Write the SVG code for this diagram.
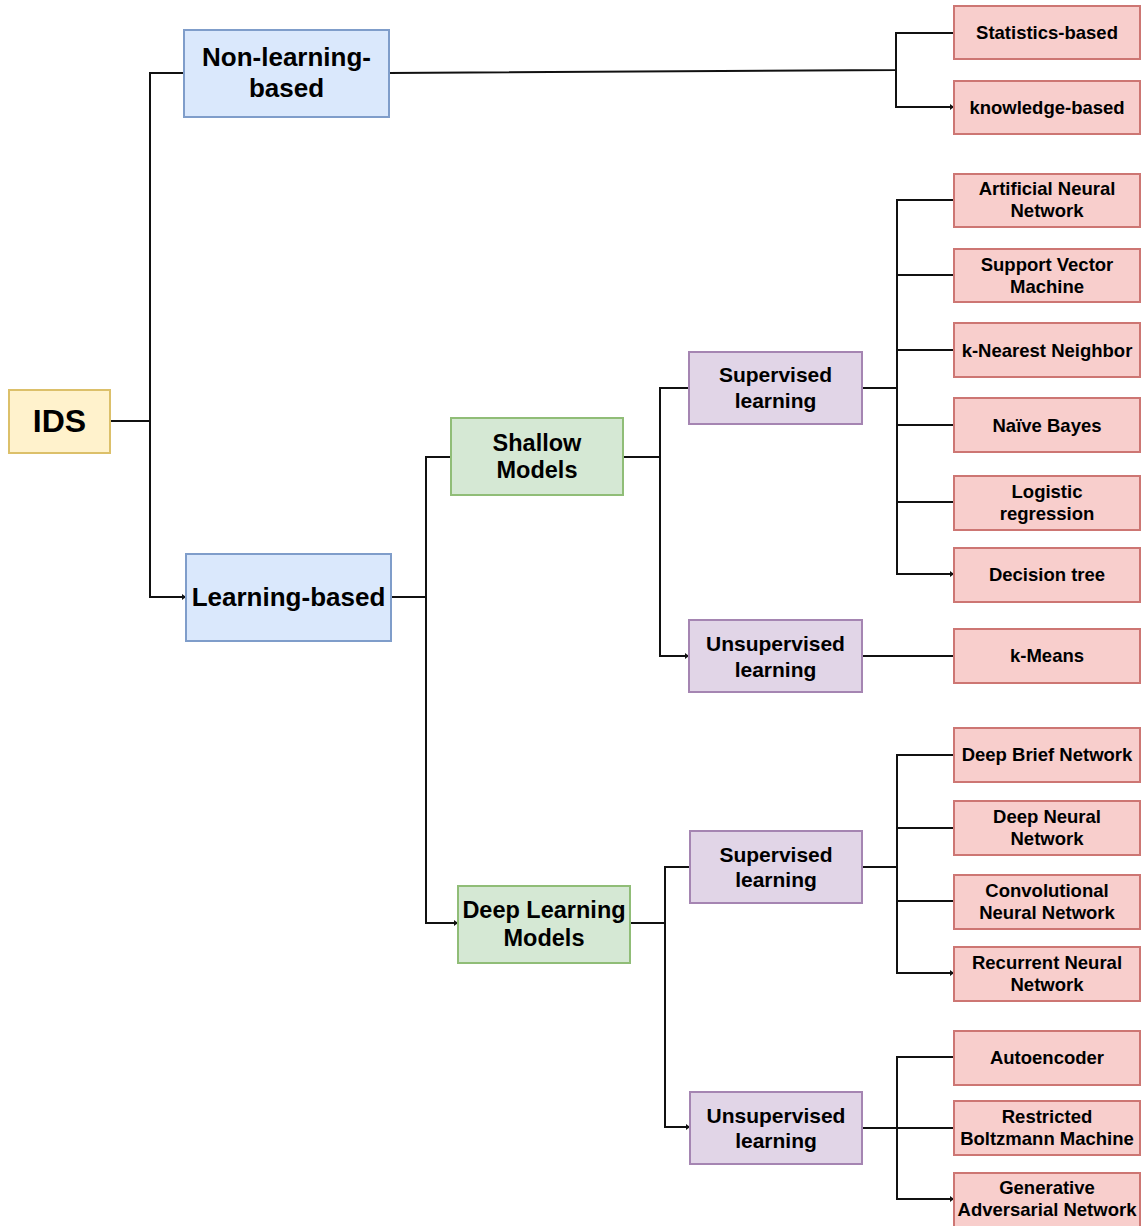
<svg xmlns="http://www.w3.org/2000/svg" width="1143" height="1226" viewBox="0 0 1143 1226">
  <style>
    .box { stroke-width: 2; }
    .ids { fill: #fff2cc; stroke: #dcc06a; }
    .blue { fill: #dae8fc; stroke: #7f9dca; }
    .green { fill: #d5e8d4; stroke: #90bd77; }
    .purple { fill: #e1d5e7; stroke: #a585b2; }
    .red { fill: #f8cecc; stroke: #cd7673; }
    text { font-family: "Liberation Sans", Arial, sans-serif; font-weight: bold; fill: #000; text-anchor: middle; }
    .t32 { font-size: 32px; }
    .t26 { font-size: 26px; }
    .t23 { font-size: 23.5px; }
    .t21 { font-size: 21px; }
    .t18 { font-size: 18.5px; }
    .edge { fill: none; stroke: #111; stroke-width: 2; }
  </style>
  <defs>
    <marker id="tick" viewBox="0 0 4 6" refX="4" refY="3" markerWidth="4" markerHeight="6" markerUnits="userSpaceOnUse" orient="auto">
      <path d="M0,0 L4,3 L0,6 Z" fill="#111"/>
    </marker>
  </defs>
  <rect width="1143" height="1226" fill="#ffffff"/>

  <!-- connectors -->
  <g id="connectors">
    <!-- IDS -->
    <path class="edge" d="M110,421 H150 V73 H184"/>
    <path class="edge" d="M110,421 H150 V597 H186" marker-end="url(#tick)"/>
    <!-- Non-learning-based -->
    <path class="edge" d="M389,73 L896,70 V33 H954"/>
    <path class="edge" d="M896,70 V107 H954" marker-end="url(#tick)"/>
    <!-- Learning-based -->
    <path class="edge" d="M391,597 H426 V457 H451"/>
    <path class="edge" d="M391,597 H426 V923 H458" marker-end="url(#tick)"/>
    <!-- Shallow Models -->
    <path class="edge" d="M623,457 H660 V388 H689"/>
    <path class="edge" d="M623,457 H660 V656 H689" marker-end="url(#tick)"/>
    <!-- Shallow supervised -->
    <path class="edge" d="M862,388 H897 V200 H954"/>
    <path class="edge" d="M897,275 H954"/>
    <path class="edge" d="M897,350 H954"/>
    <path class="edge" d="M897,425 H954"/>
    <path class="edge" d="M897,502 H954"/>
    <path class="edge" d="M862,388 H897 V574 H954" marker-end="url(#tick)"/>
    <!-- Shallow unsupervised -->
    <path class="edge" d="M862,656 H954"/>
    <!-- Deep Learning Models -->
    <path class="edge" d="M630,923 H665 V867 H690"/>
    <path class="edge" d="M630,923 H665 V1127 H690" marker-end="url(#tick)"/>
    <!-- Deep supervised -->
    <path class="edge" d="M862,867 H897 V755 H954"/>
    <path class="edge" d="M897,828 H954"/>
    <path class="edge" d="M897,901 H954"/>
    <path class="edge" d="M862,867 H897 V973 H954" marker-end="url(#tick)"/>
    <!-- Deep unsupervised -->
    <path class="edge" d="M862,1128 H897 V1057 H954"/>
    <path class="edge" d="M862,1128 H954"/>
    <path class="edge" d="M897,1128 V1199 H954" marker-end="url(#tick)"/>
  </g>

  <!-- root -->
  <g id="ids">
    <rect class="box ids" x="9" y="390" width="101" height="63"/>
    <text class="t32" x="59.5" y="432">IDS</text>
  </g>

  <!-- first level -->
  <g id="non-learning">
    <rect class="box blue" x="184" y="30" width="205" height="87"/>
    <text class="t26" x="286.5" y="66">Non-learning-</text>
    <text class="t26" x="286.5" y="97">based</text>
  </g>
  <g id="learning">
    <rect class="box blue" x="186" y="554" width="205" height="87"/>
    <text class="t26" x="288.5" y="606">Learning-based</text>
  </g>

  <!-- model families -->
  <g id="shallow">
    <rect class="box green" x="451" y="418" width="172" height="77"/>
    <text class="t23" x="537" y="451">Shallow</text>
    <text class="t23" x="537" y="478">Models</text>
  </g>
  <g id="deep">
    <rect class="box green" x="458" y="886" width="172" height="77"/>
    <text class="t23" x="544" y="918">Deep Learning</text>
    <text class="t23" x="544" y="946">Models</text>
  </g>

  <!-- learning types -->
  <g id="shallow-supervised">
    <rect class="box purple" x="689" y="352" width="173" height="72"/>
    <text class="t21" x="775.5" y="382">Supervised</text>
    <text class="t21" x="775.5" y="408">learning</text>
  </g>
  <g id="shallow-unsupervised">
    <rect class="box purple" x="689" y="620" width="173" height="72"/>
    <text class="t21" x="775.5" y="651">Unsupervised</text>
    <text class="t21" x="775.5" y="677">learning</text>
  </g>
  <g id="deep-supervised">
    <rect class="box purple" x="690" y="831" width="172" height="72"/>
    <text class="t21" x="776" y="862">Supervised</text>
    <text class="t21" x="776" y="887">learning</text>
  </g>
  <g id="deep-unsupervised">
    <rect class="box purple" x="690" y="1092" width="172" height="72"/>
    <text class="t21" x="776" y="1123">Unsupervised</text>
    <text class="t21" x="776" y="1148">learning</text>
  </g>

  <!-- methods -->
  <g id="statistics">
    <rect class="box red" x="954" y="6" width="186" height="53"/>
    <text class="t18" x="1047" y="39">Statistics-based</text>
  </g>
  <g id="knowledge">
    <rect class="box red" x="954" y="81" width="186" height="53"/>
    <text class="t18" x="1047" y="114">knowledge-based</text>
  </g>
  <g id="ann">
    <rect class="box red" x="954" y="174" width="186" height="53"/>
    <text class="t18" x="1047" y="195">Artificial Neural</text>
    <text class="t18" x="1047" y="217">Network</text>
  </g>
  <g id="svm">
    <rect class="box red" x="954" y="249" width="186" height="53"/>
    <text class="t18" x="1047" y="271">Support Vector</text>
    <text class="t18" x="1047" y="293">Machine</text>
  </g>
  <g id="knn">
    <rect class="box red" x="954" y="323" width="186" height="54"/>
    <text class="t18" x="1047" y="357">k-Nearest Neighbor</text>
  </g>
  <g id="naive-bayes">
    <rect class="box red" x="954" y="398" width="186" height="54"/>
    <text class="t18" x="1047" y="432">Naïve Bayes</text>
  </g>
  <g id="logistic">
    <rect class="box red" x="954" y="476" width="186" height="54"/>
    <text class="t18" x="1047" y="498">Logistic</text>
    <text class="t18" x="1047" y="520">regression</text>
  </g>
  <g id="decision-tree">
    <rect class="box red" x="954" y="548" width="186" height="54"/>
    <text class="t18" x="1047" y="581">Decision tree</text>
  </g>
  <g id="k-means">
    <rect class="box red" x="954" y="629" width="186" height="54"/>
    <text class="t18" x="1047" y="662">k-Means</text>
  </g>
  <g id="dbn">
    <rect class="box red" x="954" y="728" width="186" height="54"/>
    <text class="t18" x="1047" y="761">Deep Brief Network</text>
  </g>
  <g id="dnn">
    <rect class="box red" x="954" y="801" width="186" height="54"/>
    <text class="t18" x="1047" y="823">Deep Neural</text>
    <text class="t18" x="1047" y="845">Network</text>
  </g>
  <g id="cnn">
    <rect class="box red" x="954" y="875" width="186" height="54"/>
    <text class="t18" x="1047" y="897">Convolutional</text>
    <text class="t18" x="1047" y="919">Neural Network</text>
  </g>
  <g id="rnn">
    <rect class="box red" x="954" y="947" width="186" height="54"/>
    <text class="t18" x="1047" y="969">Recurrent Neural</text>
    <text class="t18" x="1047" y="991">Network</text>
  </g>
  <g id="autoencoder">
    <rect class="box red" x="954" y="1031" width="186" height="54"/>
    <text class="t18" x="1047" y="1064">Autoencoder</text>
  </g>
  <g id="rbm">
    <rect class="box red" x="954" y="1101" width="186" height="54"/>
    <text class="t18" x="1047" y="1123">Restricted</text>
    <text class="t18" x="1047" y="1145">Boltzmann Machine</text>
  </g>
  <g id="gan">
    <rect class="box red" x="954" y="1173" width="186" height="56"/>
    <text class="t18" x="1047" y="1194">Generative</text>
    <text class="t18" x="1047" y="1216">Adversarial Network</text>
  </g>
</svg>
